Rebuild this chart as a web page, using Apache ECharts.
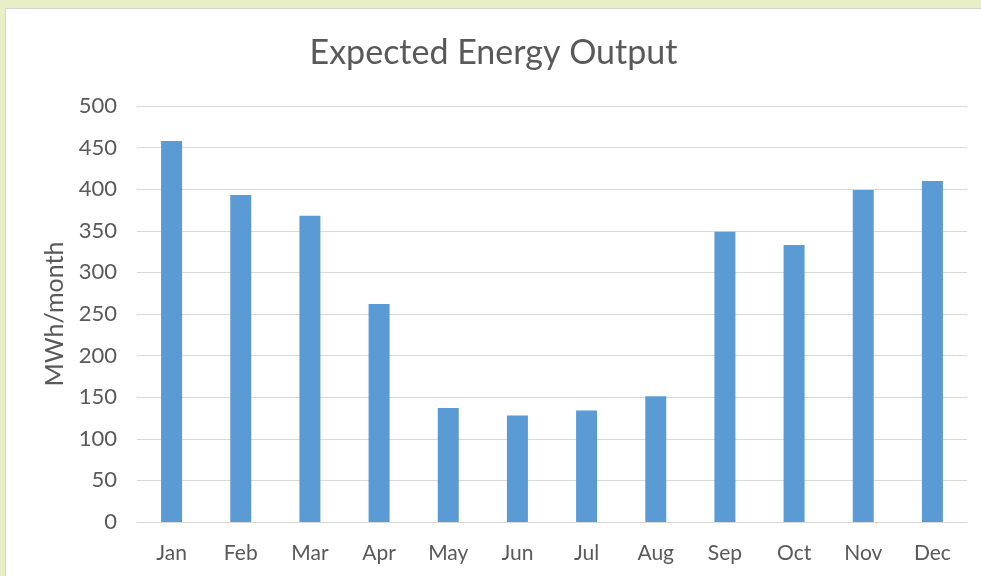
<!DOCTYPE html>
<html>
<head>
<meta charset="utf-8">
<script src="https://cdn.jsdelivr.net/npm/echarts@6/dist/echarts.min.js"></script>
<style>
  html, body { margin: 0; padding: 0; width: 981px; height: 576px; overflow: hidden; background: #e8efc7; }
  #main { position: absolute; left: 5px; top: 8px; width: 976px; height: 568px; background: #fff;
          border-left: 1px solid #d3d3d3; border-top: 1px solid #d3d3d3; box-sizing: border-box; }
</style>
</head>
<body>
<div id="main"></div>
<script>
var months = ['Jan', 'Feb', 'Mar', 'Apr', 'May', 'Jun', 'Jul', 'Aug', 'Sep', 'Oct', 'Nov', 'Dec']
var output = [458, 393, 368, 262, 137, 128, 134, 151, 349, 333, 399, 410]
var yTicks = { min: 0, max: 500, interval: 50 }

var font = 'Lato, "Open Sans", sans-serif'
var chart = echarts.init(document.getElementById('main'), null, { renderer: 'canvas' })

var option = {
  animation: false,
  title: {
    text: 'Expected Energy Output',
    left: 'center',
    top: 22,
    textStyle: { fontFamily: font, fontSize: 34, fontWeight: 'normal', color: '#595959' }
  },
  grid: { left: 131, right: 14, top: 97, bottom: 54 },
  xAxis: {
    type: 'category',
    data: months,
    axisLine: { lineStyle: { color: '#d9d9d9' } },
    axisTick: { show: false },
    axisLabel: { fontFamily: font, fontSize: 21, color: '#595959', margin: 21 }
  },
  yAxis: {
    type: 'value',
    min: yTicks.min,
    max: yTicks.max,
    interval: yTicks.interval,
    name: 'MWh/month',
    nameLocation: 'middle',
    nameGap: 68,
    nameTextStyle: { fontFamily: font, fontSize: 25, color: '#595959' },
    axisLine: { show: false },
    axisTick: { show: false },
    splitLine: { lineStyle: { color: '#d9d9d9' } },
    axisLabel: { fontFamily: font, fontSize: 22, color: '#595959', margin: 20 }
  },
  series: [{
    type: 'bar',
    data: output,
    barWidth: 21,
    itemStyle: { color: '#5b9bd5' }
  }]
}
chart.setOption(option)
</script>
</body>
</html>
